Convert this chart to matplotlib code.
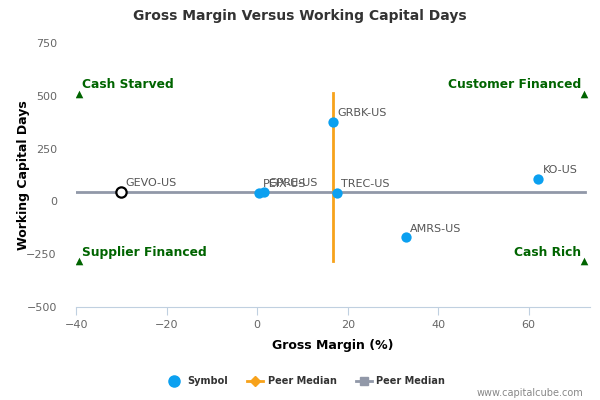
import numpy as np
import matplotlib
matplotlib.use("Agg")
from matplotlib import pyplot as plt
from matplotlib.lines import Line2D

# peers: gross margin (%) vs working capital days
symbols = ["GRBK-US", "PEIX-US", "GPRE-US", "TREC-US", "AMRS-US", "KO-US"]
gross_margin = [16.8, 0.4, 1.5, 17.6, 32.8, 62.1]
wc_days = [377, 40, 45, 42, -170, 108]

# the highlighted company (open circle)
focus_symbol = "GEVO-US"
focus_margin = -30.0
focus_days = 45

median_margin = 16.8
median_days = 45
vline_days = [514, -283]
hline_margin = [-40, 72.4]

quadrants = ["Cash Starved", "Customer Financed", "Supplier Financed", "Cash Rich"]
quad_x = [-39.3, 72.2, -39.3, 72.2]
quad_y = [510, 510, -283, -283]

x_ticks = [-40, -20, 0, 20, 40, 60]
y_ticks = [-500, -250, 0, 250, 500, 750]

blue = "#0ba0f0"
orange = "#f7a21b"
grey = "#9198a8"
green = "#006400"

fig = plt.figure(figsize=(6, 4), dpi=100)
ax = fig.add_axes([0.127, 0.2325, 0.856, 0.66])

ax.plot([median_margin, median_margin], vline_days, color=orange, lw=2, zorder=2)
ax.plot(hline_margin, [median_days, median_days], color=grey, lw=2, zorder=2)

ax.scatter(gross_margin, wc_days, s=55, color=blue, zorder=3, linewidths=0)
ax.scatter([focus_margin], [focus_days], s=55, facecolors="white",
           edgecolors="black", linewidths=1.6, zorder=4)

for name, gx, wy in zip(symbols + [focus_symbol], gross_margin + [focus_margin],
                        wc_days + [focus_days]):
    ax.annotate(name, (gx, wy), xytext=(3, 4), textcoords="offset points",
                fontsize=8, color="#555555", zorder=5)

ax.scatter(quad_x, quad_y, marker="^", s=30, color=green, zorder=3, linewidths=0)
for name, qx, qy in zip(quadrants, quad_x, quad_y):
    left = qx < 0
    ax.annotate(name, (qx, qy), xytext=(2 if left else -2, 4),
                textcoords="offset points", ha="left" if left else "right",
                fontsize=8.8, fontweight="bold", color=green)

ax.set_xlim(-40, 73.5)
ax.set_ylim(-500, 750)
ax.set_xticks(x_ticks)
ax.set_yticks(y_ticks)
for s in ["top", "right", "left"]:
    ax.spines[s].set_visible(False)
ax.spines["bottom"].set_color("#c0d0e0")
ax.tick_params(axis="x", colors="#c0d0e0", labelcolor="#666666", labelsize=8, length=6)
ax.tick_params(axis="y", length=0, labelcolor="#666666", labelsize=8, pad=14)

ax.set_xlabel("Gross Margin (%)", fontsize=9, fontweight="bold", labelpad=6)
ax.set_ylabel("Working Capital Days", fontsize=9, fontweight="bold")
ax.yaxis.set_label_coords(-0.09, 0.5)
fig.text(0.5, 0.96, "Gross Margin Versus Working Capital Days", ha="center",
         va="center", fontsize=10, fontweight="bold", color="#333333")

handles = [
    Line2D([], [], marker="o", color=blue, lw=0, markersize=8),
    Line2D([], [], marker="D", color=orange, lw=2, markersize=5),
    Line2D([], [], marker="s", color=grey, lw=2, markersize=6),
]
leg = fig.legend(handles, ["Symbol", "Peer Median", "Peer Median"], loc="center",
                 bbox_to_anchor=(0.51, 0.047), ncol=3, frameon=False,
                 prop={"size": 7, "weight": "bold"}, handlelength=1.6,
                 columnspacing=2.0, handletextpad=0.5)
for t in leg.get_texts():
    t.set_color("#333333")

fig.text(0.972, 0.018, "www.capitalcube.com", ha="right", va="center",
         fontsize=7, color="#888888")

fig.savefig("out.png", dpi=100)
